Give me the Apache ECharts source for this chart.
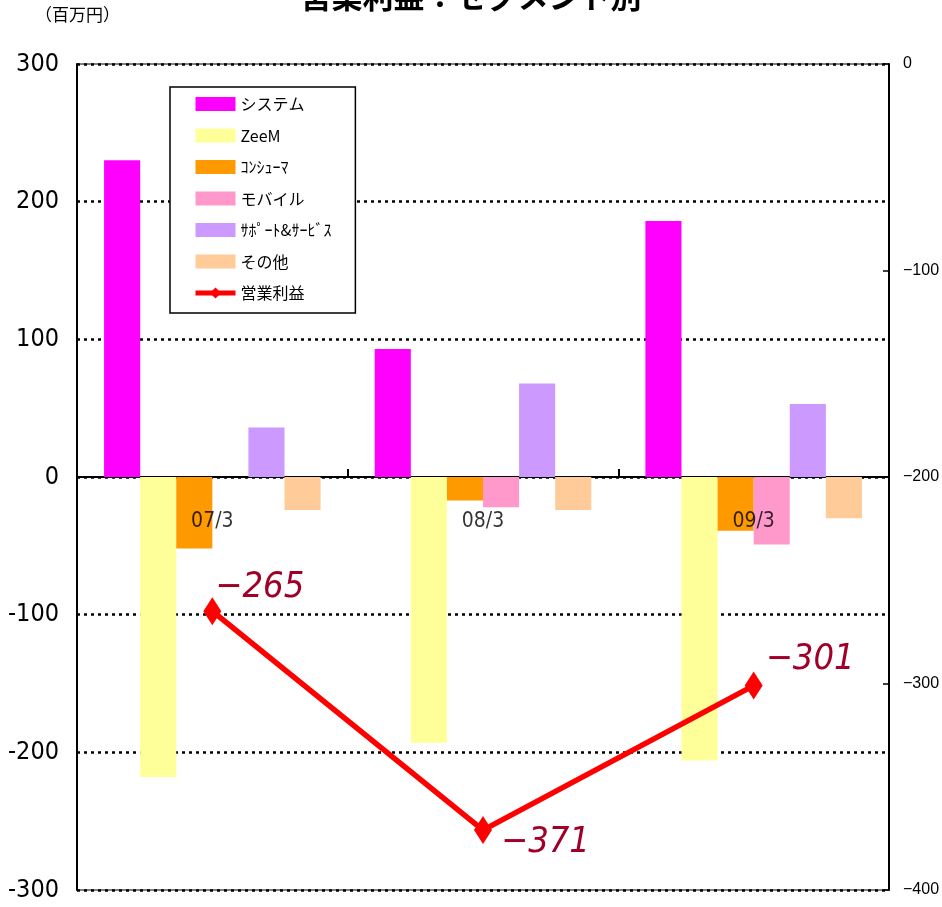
<!DOCTYPE html>
<html>
<head>
<meta charset="utf-8">
<script src="https://cdn.jsdelivr.net/npm/echarts@6/dist/echarts.min.js"></script>
<style>
  html, body { margin: 0; padding: 0; background: #fff; }
  #chart { width: 942px; height: 907px; }
</style>
</head>
<body>
<div id="chart"></div>
<script>
// Fiscal periods (category axis)
const periods = ['07/3', '08/3', '09/3'];

// Segment operating profit, million yen (left axis)
const system      = [230, 93, 186];
const zeem        = [-218, -193, -206];
const consumer    = [-52, -17, -39];
const mobile      = [null, -22, -49];
const support     = [36, 68, 53];
const others      = [-24, -24, -30];

// Total operating profit, million yen (right axis)
const operatingProfit = [-265, -371, -301];

// Axis ticks
const leftTicks  = { min: -300, max: 300, step: 100 };
const rightTicks = { min: -400, max: 0, step: 100 };

const narrow = '"DejaVu Sans Condensed", "Liberation Sans Narrow", "Liberation Sans", sans-serif';
const jp = '"Noto Sans CJK JP", "Noto Sans", sans-serif';
const minus = v => String(v).replace('-', '−');

const chart = echarts.init(document.getElementById('chart'));

function barSeries(name, data, color) {
  return {
    name: name,
    type: 'bar',
    data: data,
    itemStyle: { color: color },
    barGap: '0%',
    barCategoryGap: '20%',
    emphasis: { disabled: true }
  };
}

// Value label placements for the total line
const lineLabelOffsets = [[-11, -24], [4, 13], [-2, -26]];

const legendNames = ['システム', 'ZeeM', 'ｺﾝｼｭｰﾏ', 'モバイル', 'ｻﾎﾟｰﾄ&ｻｰﾋﾞｽ', 'その他'];

chart.setOption({
  animation: false,
  backgroundColor: '#fff',
  grid: {
    left: 77, right: 53, top: 64, bottom: 17,
    outerBoundsMode: 'none',
    containLabel: false,
    show: true, borderColor: '#000', borderWidth: 1
  },
  graphic: [
    {
      type: 'text', left: 'center', top: -19,
      style: {
        text: '営業利益：セグメント別',
        font: 'bold 31px ' + jp,
        fill: '#000',
        shadowColor: 'rgba(0,0,0,0.45)', shadowOffsetX: 2, shadowOffsetY: 2, shadowBlur: 2
      }
    },
    {
      type: 'text', left: 35, top: 6,
      style: { text: '（百万円）', font: '17px ' + jp, fill: '#000' }
    }
  ],
  legend: {
    orient: 'vertical',
    left: 170, top: 87,
    padding: [9, 24, 12, 23],
    itemWidth: 40, itemHeight: 14, itemGap: 15.5,
    backgroundColor: '#fff',
    borderColor: '#000', borderWidth: 1.5,
    textStyle: { fontFamily: jp, fontSize: 16, color: '#000' },
    data: legendNames.map(n => ({ name: n, icon: 'rect' })).concat([
      { name: '営業利益', lineStyle: { width: 5 } }
    ])
  },
  xAxis: {
    type: 'category',
    data: periods,
    axisLine: { onZero: true, lineStyle: { color: '#000', width: 2 } },
    axisTick: { show: true, inside: true, length: 8, interval: 0, lineStyle: { color: '#000', width: 2 } },
    axisLabel: { show: false },
    splitLine: { show: false }
  },
  yAxis: [
    {
      type: 'value',
      min: leftTicks.min, max: leftTicks.max, interval: leftTicks.step,
      axisLine: { show: true, onZero: false, lineStyle: { color: '#000', width: 2 } },
      axisTick: { show: false },
      axisLabel: { margin: 18, fontFamily: narrow, fontSize: 25, color: '#000' },
      splitLine: { show: true, lineStyle: { color: '#000', width: 2.5, type: [3, 4] } }
    },
    {
      type: 'value',
      min: rightTicks.min, max: rightTicks.max, interval: rightTicks.step,
      position: 'right',
      axisLine: { show: true, onZero: false, lineStyle: { color: '#000', width: 2 } },
      axisTick: { show: true, inside: true, length: 6, lineStyle: { color: '#000', width: 1.5 } },
      axisLabel: {
        margin: 14, fontFamily: '"Liberation Sans", Arial, sans-serif', fontSize: 16, color: '#000',
        formatter: minus
      },
      splitLine: { show: false }
    }
  ],
  series: [
    barSeries('システム', system, '#FF00FF'),
    barSeries('ZeeM', zeem, '#FFFF99'),
    barSeries('ｺﾝｼｭｰﾏ', consumer, '#FF9900'),
    barSeries('モバイル', mobile, '#FF99CC'),
    barSeries('ｻﾎﾟｰﾄ&ｻｰﾋﾞｽ', support, '#CC99FF'),
    barSeries('その他', others, '#FFCC99'),
    {
      // Period names written just below the zero line
      name: 'periodLabels',
      type: 'scatter',
      data: periods.map(p => [p, 0]),
      symbolSize: 0,
      silent: true,
      z: 6,
      label: {
        show: true,
        position: 'bottom',
        distance: 34,
        formatter: p => p.value[0],
        fontFamily: narrow,
        fontSize: 21,
        color: '#000'
      }
    },
    {
      name: '営業利益',
      type: 'line',
      yAxisIndex: 1,
      z: 5,
      data: operatingProfit.map((v, i) => ({
        value: v,
        label: { offset: lineLabelOffsets[i] }
      })),
      symbol: 'diamond',
      symbolSize: [18, 28],
      lineStyle: { color: '#FF0000', width: 5.5 },
      itemStyle: { color: '#FF0000' },
      label: {
        show: true,
        position: 'right',
        formatter: p => minus(p.value),
        fontFamily: narrow,
        fontStyle: 'italic',
        fontSize: 36,
        color: '#A00028'
      },
      emphasis: { disabled: true }
    }
  ]
});
</script>
</body>
</html>
